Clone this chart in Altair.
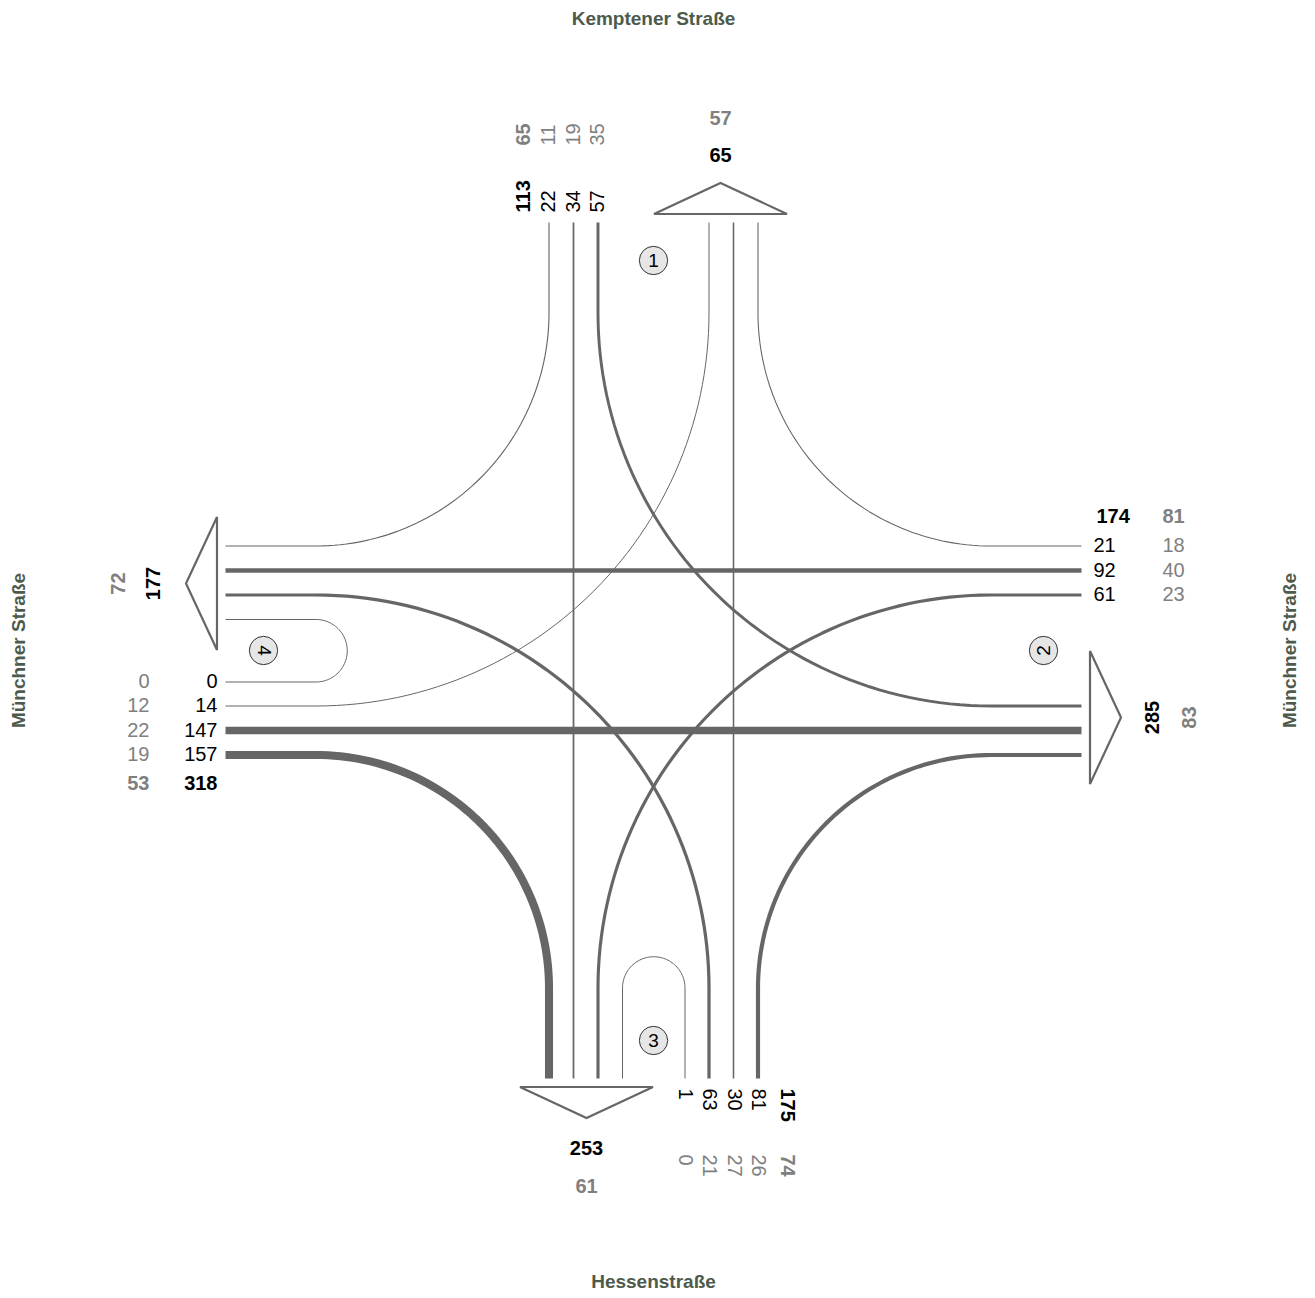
import math
import altair as alt
import pandas as pd

# ---------------- data ----------------
# inbound lane volumes per arm (black) and the second figure below them (grey)
north_in = [22, 34, 57]            # Kemptener Straße, lanes left -> right
north_in_grey = [11, 19, 35]
east_in = [21, 92, 61]             # Münchner Straße (east), lanes top -> bottom
east_in_grey = [18, 40, 23]
south_in = [1, 63, 30, 81]         # Hessenstraße, lanes left -> right
south_in_grey = [0, 21, 27, 26]
west_in = [0, 14, 147, 157]        # Münchner Straße (west), lanes top -> bottom
west_in_grey = [0, 12, 22, 19]

arms = ["N", "E", "S", "W"]
street_names = ["Kemptener Straße", "Münchner Straße", "Hessenstraße", "Münchner Straße"]
arm_numbers = ["1", "2", "3", "4"]

# ---------------- routing: inbound lane slot -> outbound lane slot ----------------
in_slots = {"N": [0, 1, 2], "E": [0, 1, 2], "S": [4, 5, 6, 7], "W": [4, 5, 6, 7]}
in_vals = {"N": north_in, "E": east_in, "S": south_in, "W": west_in}
in_grey = {"N": north_in_grey, "E": east_in_grey, "S": south_in_grey, "W": west_in_grey}
routes = {
    ("N", 0): ("W", 0), ("N", 1): ("S", 1), ("N", 2): ("E", 5),
    ("E", 0): ("N", 7), ("E", 1): ("W", 1), ("E", 2): ("S", 2),
    ("S", 4): ("S", 3), ("S", 5): ("W", 2), ("S", 6): ("N", 6), ("S", 7): ("E", 7),
    ("W", 4): ("W", 3), ("W", 5): ("N", 5), ("W", 6): ("E", 6), ("W", 7): ("S", 0),
}

# ---------------- layout (pixel geometry) ----------------
CX, CY = 653.5, 650.5
OFF = [-104.5, -80, -55.5, -31, 31.5, 55.5, 80, 104.5]
J = 337.5     # start of the curves
E = 428.0     # end of the arms
VERT = {"N", "S"}
INWARD = {"N": (0, 1), "S": (0, -1), "W": (1, 0), "E": (-1, 0)}


def pos(arm, along, d):
    if arm == "N":
        return (CX + along, CY - d)
    if arm == "S":
        return (CX + along, CY + d)
    if arm == "W":
        return (CX - d, CY + along)
    return (CX + d, CY + along)


def lane(arm, slot, d):
    return pos(arm, OFF[slot], d)


# ---------------- flow paths ----------------
rows = []
NSEG = 60
for (a, i), (b, j) in routes.items():
    vol = in_vals[a][in_slots[a].index(i)]
    pts = [lane(a, i, E), lane(a, i, J)]
    P = lane(a, i, J)
    Q = lane(b, j, J)
    if a == b:  # U-turn
        c = ((P[0] + Q[0]) / 2, (P[1] + Q[1]) / 2)
        v = (P[0] - c[0], P[1] - c[1])
        r = math.hypot(*v)
        dvec = INWARD[a]
        for k in range(1, NSEG + 1):
            t = math.pi * k / NSEG
            pts.append((c[0] + v[0] * math.cos(t) + dvec[0] * r * math.sin(t),
                        c[1] + v[1] * math.cos(t) + dvec[1] * r * math.sin(t)))
    elif abs(P[0] - Q[0]) < 1e-6 or abs(P[1] - Q[1]) < 1e-6:
        pts.append(Q)
    else:
        c = (Q[0], P[1]) if a in VERT else (P[0], Q[1])
        for k in range(1, NSEG + 1):
            t = (math.pi / 2) * k / NSEG
            pts.append((c[0] + (P[0] - c[0]) * math.cos(t) + (Q[0] - c[0]) * math.sin(t),
                        c[1] + (P[1] - c[1]) * math.cos(t) + (Q[1] - c[1]) * math.sin(t)))
    pts.append(lane(b, j, E))
    for k, (x, y) in enumerate(pts):
        rows.append({"path": f"{a}{i}", "k": k, "x": x, "y": y, "vol": vol})
flows = pd.DataFrame(rows)

# ---------------- outbound arrows ----------------
TRI_ALONG = {"N": 67, "S": -67, "W": -67, "E": 67}
tri_rows = []
for a in arms:
    o = TRI_ALONG[a]
    seq = [(o - 66.5, E + 8.5), (o, E + 39.5), (o + 66.5, E + 8.5), (o - 66.5, E + 8.5), (o, E + 39.5)]
    for k, (al, d) in enumerate(seq):
        x, y = pos(a, al, d)
        tri_rows.append({"tri": a, "k": k, "x": x, "y": y})
tris = pd.DataFrame(tri_rows)

# ---------------- totals ----------------
out_tot = {a: 0 for a in arms}
out_grey = {a: 0 for a in arms}
for (a, i), (b, j) in routes.items():
    idx = in_slots[a].index(i)
    out_tot[b] += in_vals[a][idx]
    out_grey[b] += in_grey[a][idx]
in_tot = {a: sum(in_vals[a]) for a in arms}
in_tot_grey = {a: sum(in_grey[a]) for a in arms}

BLACK = "#000000"
GREY = "#808080"
LINE = "#666666"
STREET = "#4d5b4d"
FONT = "Liberation Sans"
FS = 20

X = alt.X("x:Q", scale=alt.Scale(domain=[8, 1307], nice=False, zero=False), axis=None)
Y = alt.Y("y:Q", scale=alt.Scale(domain=[8, 1290], nice=False, zero=False, reverse=True), axis=None)


def text_layer(items, **kw):
    df = pd.DataFrame([{"x": x, "y": y, "t": str(t)} for x, y, t in items])
    base = dict(font=FONT, fontSize=FS, baseline="middle")
    base.update(kw)
    return alt.Chart(df).mark_text(**base).encode(x=X, y=Y, text="t:N")


layers = []

flow_layer = alt.Chart(flows).transform_calculate(
    w="max(1, datum.vol / 19.5)"
).mark_line(color=LINE, strokeCap="butt", strokeJoin="round").encode(
    x=X, y=Y, detail="path:N", order="k:Q",
    strokeWidth=alt.StrokeWidth("w:Q", scale=None, legend=None),
)
layers.append(flow_layer)

tri_layer = alt.Chart(tris).mark_line(color=LINE, strokeWidth=2.2, strokeJoin="miter").encode(
    x=X, y=Y, detail="tri:N", order="k:Q")
layers.append(tri_layer)

# lane labels
lab = {"N": [], "S": [], "E": [], "W": []}
labg = {"N": [], "S": [], "E": [], "W": []}
for a in arms:
    for slot, v, g in zip(in_slots[a], in_vals[a], in_grey[a]):
        if a == "N":
            lab[a].append((*lane(a, slot, E + 10), v)); labg[a].append((*lane(a, slot, E + 77), g))
        elif a == "S":
            lab[a].append((*lane(a, slot, E + 10), v)); labg[a].append((*lane(a, slot, E + 76), g))
        elif a == "W":
            lab[a].append((*lane(a, slot, E + 8), v)); labg[a].append((*lane(a, slot, E + 76), g))
        else:
            lab[a].append((*lane(a, slot, E + 12), v)); labg[a].append((*lane(a, slot, E + 81), g))

layers.append(text_layer(lab["N"], angle=270, align="left", color=BLACK))
layers.append(text_layer(labg["N"], angle=270, align="left", color=GREY))
layers.append(text_layer([(*pos("N", OFF[0] - 25, E + 10), in_tot["N"])], angle=270, align="left", color=BLACK, fontWeight="bold"))
layers.append(text_layer([(*pos("N", OFF[0] - 25, E + 77), in_tot_grey["N"])], angle=270, align="left", color=GREY, fontWeight="bold"))

layers.append(text_layer(lab["S"], angle=90, align="left", color=BLACK))
layers.append(text_layer(labg["S"], angle=90, align="left", color=GREY))
layers.append(text_layer([(*pos("S", OFF[7] + 29, E + 10), in_tot["S"])], angle=90, align="left", color=BLACK, fontWeight="bold"))
layers.append(text_layer([(*pos("S", OFF[7] + 29, E + 76), in_tot_grey["S"])], angle=90, align="left", color=GREY, fontWeight="bold"))

layers.append(text_layer(lab["W"], align="right", color=BLACK))
layers.append(text_layer(labg["W"], align="right", color=GREY))
layers.append(text_layer([(*pos("W", OFF[7] + 29, E + 8), in_tot["W"])], align="right", color=BLACK, fontWeight="bold"))
layers.append(text_layer([(*pos("W", OFF[7] + 29, E + 76), in_tot_grey["W"])], align="right", color=GREY, fontWeight="bold"))

layers.append(text_layer(lab["E"], align="left", color=BLACK))
layers.append(text_layer(labg["E"], align="left", color=GREY))
layers.append(text_layer([(*pos("E", OFF[0] - 29, E + 15), in_tot["E"])], align="left", color=BLACK, fontWeight="bold"))
layers.append(text_layer([(*pos("E", OFF[0] - 29, E + 81), in_tot_grey["E"])], align="left", color=GREY, fontWeight="bold"))

# outbound totals
layers.append(text_layer([(*pos("N", 67, E + 67), out_tot["N"]), (*pos("S", -67, E + 70), out_tot["S"])],
                         align="center", color=BLACK, fontWeight="bold"))
layers.append(text_layer([(*pos("N", 67, E + 104), out_grey["N"]), (*pos("S", -67, E + 108), out_grey["S"])],
                         align="center", color=GREY, fontWeight="bold"))
layers.append(text_layer([(*pos("W", -67, E + 72), out_tot["W"]), (*pos("E", 67, E + 71), out_tot["E"])],
                         angle=270, align="center", color=BLACK, fontWeight="bold"))
layers.append(text_layer([(*pos("W", -67, E + 107), out_grey["W"]), (*pos("E", 67, E + 108), out_grey["E"])],
                         angle=270, align="center", color=GREY, fontWeight="bold"))

# arm number circles
circ = pd.DataFrame([{"x": pos(a, 0, 390)[0], "y": pos(a, 0, 390)[1]} for a in arms])
layers.append(alt.Chart(circ).mark_point(shape="circle", filled=True, fill="#e6e6e6", stroke="#333333",
                                         strokeWidth=1, size=800, opacity=1).encode(x=X, y=Y))
num_pos = {a: pos(a, 0, 390) for a in arms}
layers.append(text_layer([(*num_pos["N"], arm_numbers[0]), (*num_pos["S"], arm_numbers[2])],
                         align="center", color=BLACK, fontSize=19))
layers.append(text_layer([(*num_pos["E"], arm_numbers[1])], angle=270, align="center", color=BLACK, fontSize=19))
layers.append(text_layer([(*num_pos["W"], arm_numbers[3])], angle=90, align="center", color=BLACK, fontSize=19))

# street names
layers.append(text_layer([(*pos("N", 0, 631.5), street_names[0]), (*pos("S", 0, 631), street_names[2])],
                         align="center", color=STREET, fontWeight="bold", fontSize=19))
layers.append(text_layer([(*pos("W", 0, 634.5), street_names[3]), (*pos("E", 0, 636.5), street_names[1])],
                         angle=270, align="center", color=STREET, fontWeight="bold", fontSize=19))

chart = alt.layer(*layers).properties(
    width=1299, height=1282, padding=0,
    autosize=alt.AutoSizeParams(type="none"),
    background="white",
).configure_view(stroke=None)

chart.save("out.html", embed_options={"renderer": "svg", "actions": False})
